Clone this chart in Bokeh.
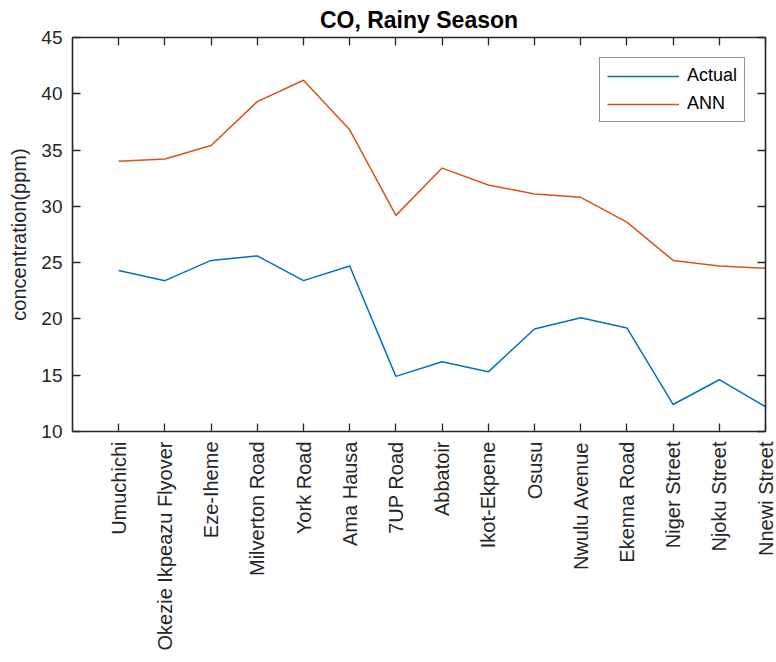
import math
from bokeh.plotting import figure
from bokeh.models import Range1d, FixedTicker, LinearAxis, Legend, LegendItem
from bokeh.embed import file_html
from bokeh.resources import INLINE

# ---- data ----
categories = ["Umuchichi", "Okezie Ikpeazu Flyover", "Eze-Iheme", "Milverton Road",
              "York Road", "Ama Hausa", "7UP Road", "Abbatoir", "Ikot-Ekpene", "Osusu",
              "Nwulu Avenue", "Ekenna Road", "Niger Street", "Njoku Street", "Nnewi Street"]
actual = [24.3, 23.4, 25.2, 25.6, 23.4, 24.7, 14.9, 16.2, 15.3, 19.1, 20.1, 19.2, 12.4, 14.6, 12.2]
ann = [34.0, 34.2, 35.4, 39.3, 41.2, 36.8, 29.2, 33.4, 31.9, 31.1, 30.8, 28.6, 25.2, 24.7, 24.5]
y_ticks = [10, 15, 20, 25, 30, 35, 40, 45]
title_text = "CO, Rainy Season"
y_label = "concentration(ppm)"

xs = list(range(1, len(categories) + 1))

FONT = "Liberation Sans"
AX = "#262626"

p = figure(width=776, height=662, output_backend="svg", toolbar_location=None,
           x_range=Range1d(0, len(categories)), y_range=Range1d(10, 45),
           min_border_left=72, min_border_right=11, min_border_top=36, min_border_bottom=231,
           x_axis_type=None, y_axis_type=None, title=title_text)
p.xgrid.visible = False
p.ygrid.visible = False
p.outline_line_color = None
p.background_fill_color = "white"
p.border_fill_color = "white"

p.title.align = "center"
p.title.text_font = FONT
p.title.text_font_size = "23px"
p.title.text_font_style = "bold"
p.title.text_color = "black"
p.title.standoff = 9
p.title.offset = 0

xt = FixedTicker(ticks=xs)
yt = FixedTicker(ticks=y_ticks)

def style(ax, labels=True):
    ax.axis_line_color = AX
    ax.axis_line_width = 1.6
    ax.major_tick_line_color = AX
    ax.major_tick_line_width = 1.3
    ax.major_tick_in = 8
    ax.major_tick_out = 0
    ax.minor_tick_line_color = None
    ax.major_label_text_color = AX
    ax.major_label_text_font = FONT
    if not labels:
        ax.major_label_text_color = None
        ax.major_label_text_alpha = 0
        ax.major_label_text_font_size = "0px"
        ax.major_label_standoff = 0

xb = LinearAxis(ticker=xt)
style(xb)
xb.major_label_overrides = {x: c for x, c in zip(xs, categories)}
xb.major_label_orientation = math.pi / 2
xb.major_label_text_font_size = "20px"
xb.major_label_standoff = 10
p.add_layout(xb, "below")

xa = LinearAxis(ticker=xt)
style(xa, labels=False)
p.add_layout(xa, "above")

yl = LinearAxis(ticker=yt)
style(yl)
yl.major_label_text_font_size = "19px"
yl.major_label_standoff = 10
yl.axis_label = y_label
yl.axis_label_text_font = FONT
yl.axis_label_text_font_size = "20px"
yl.axis_label_text_font_style = "normal"
yl.axis_label_text_color = AX
yl.axis_label_standoff = 8
p.add_layout(yl, "left")

yr = LinearAxis(ticker=yt)
style(yr, labels=False)
p.add_layout(yr, "right")

r1 = p.line(xs, actual, line_color="#0072BD", line_width=1.5)
r2 = p.line(xs, ann, line_color="#D95319", line_width=1.5)

legend = Legend(items=[LegendItem(label="Actual", renderers=[r1]),
                       LegendItem(label="ANN", renderers=[r2])],
                location="top_right")
legend.margin = 20
legend.padding = 7
legend.spacing = 7
legend.glyph_width = 72
legend.glyph_height = 20
legend.label_height = 20
legend.label_standoff = 8
legend.label_text_font = FONT
legend.label_text_font_size = "18px"
legend.label_text_color = "black"
legend.border_line_color = AX
legend.border_line_width = 1.3
legend.background_fill_color = "white"
legend.background_fill_alpha = 1
p.add_layout(legend, "center")

open("out.html", "w").write(file_html(p, INLINE))
